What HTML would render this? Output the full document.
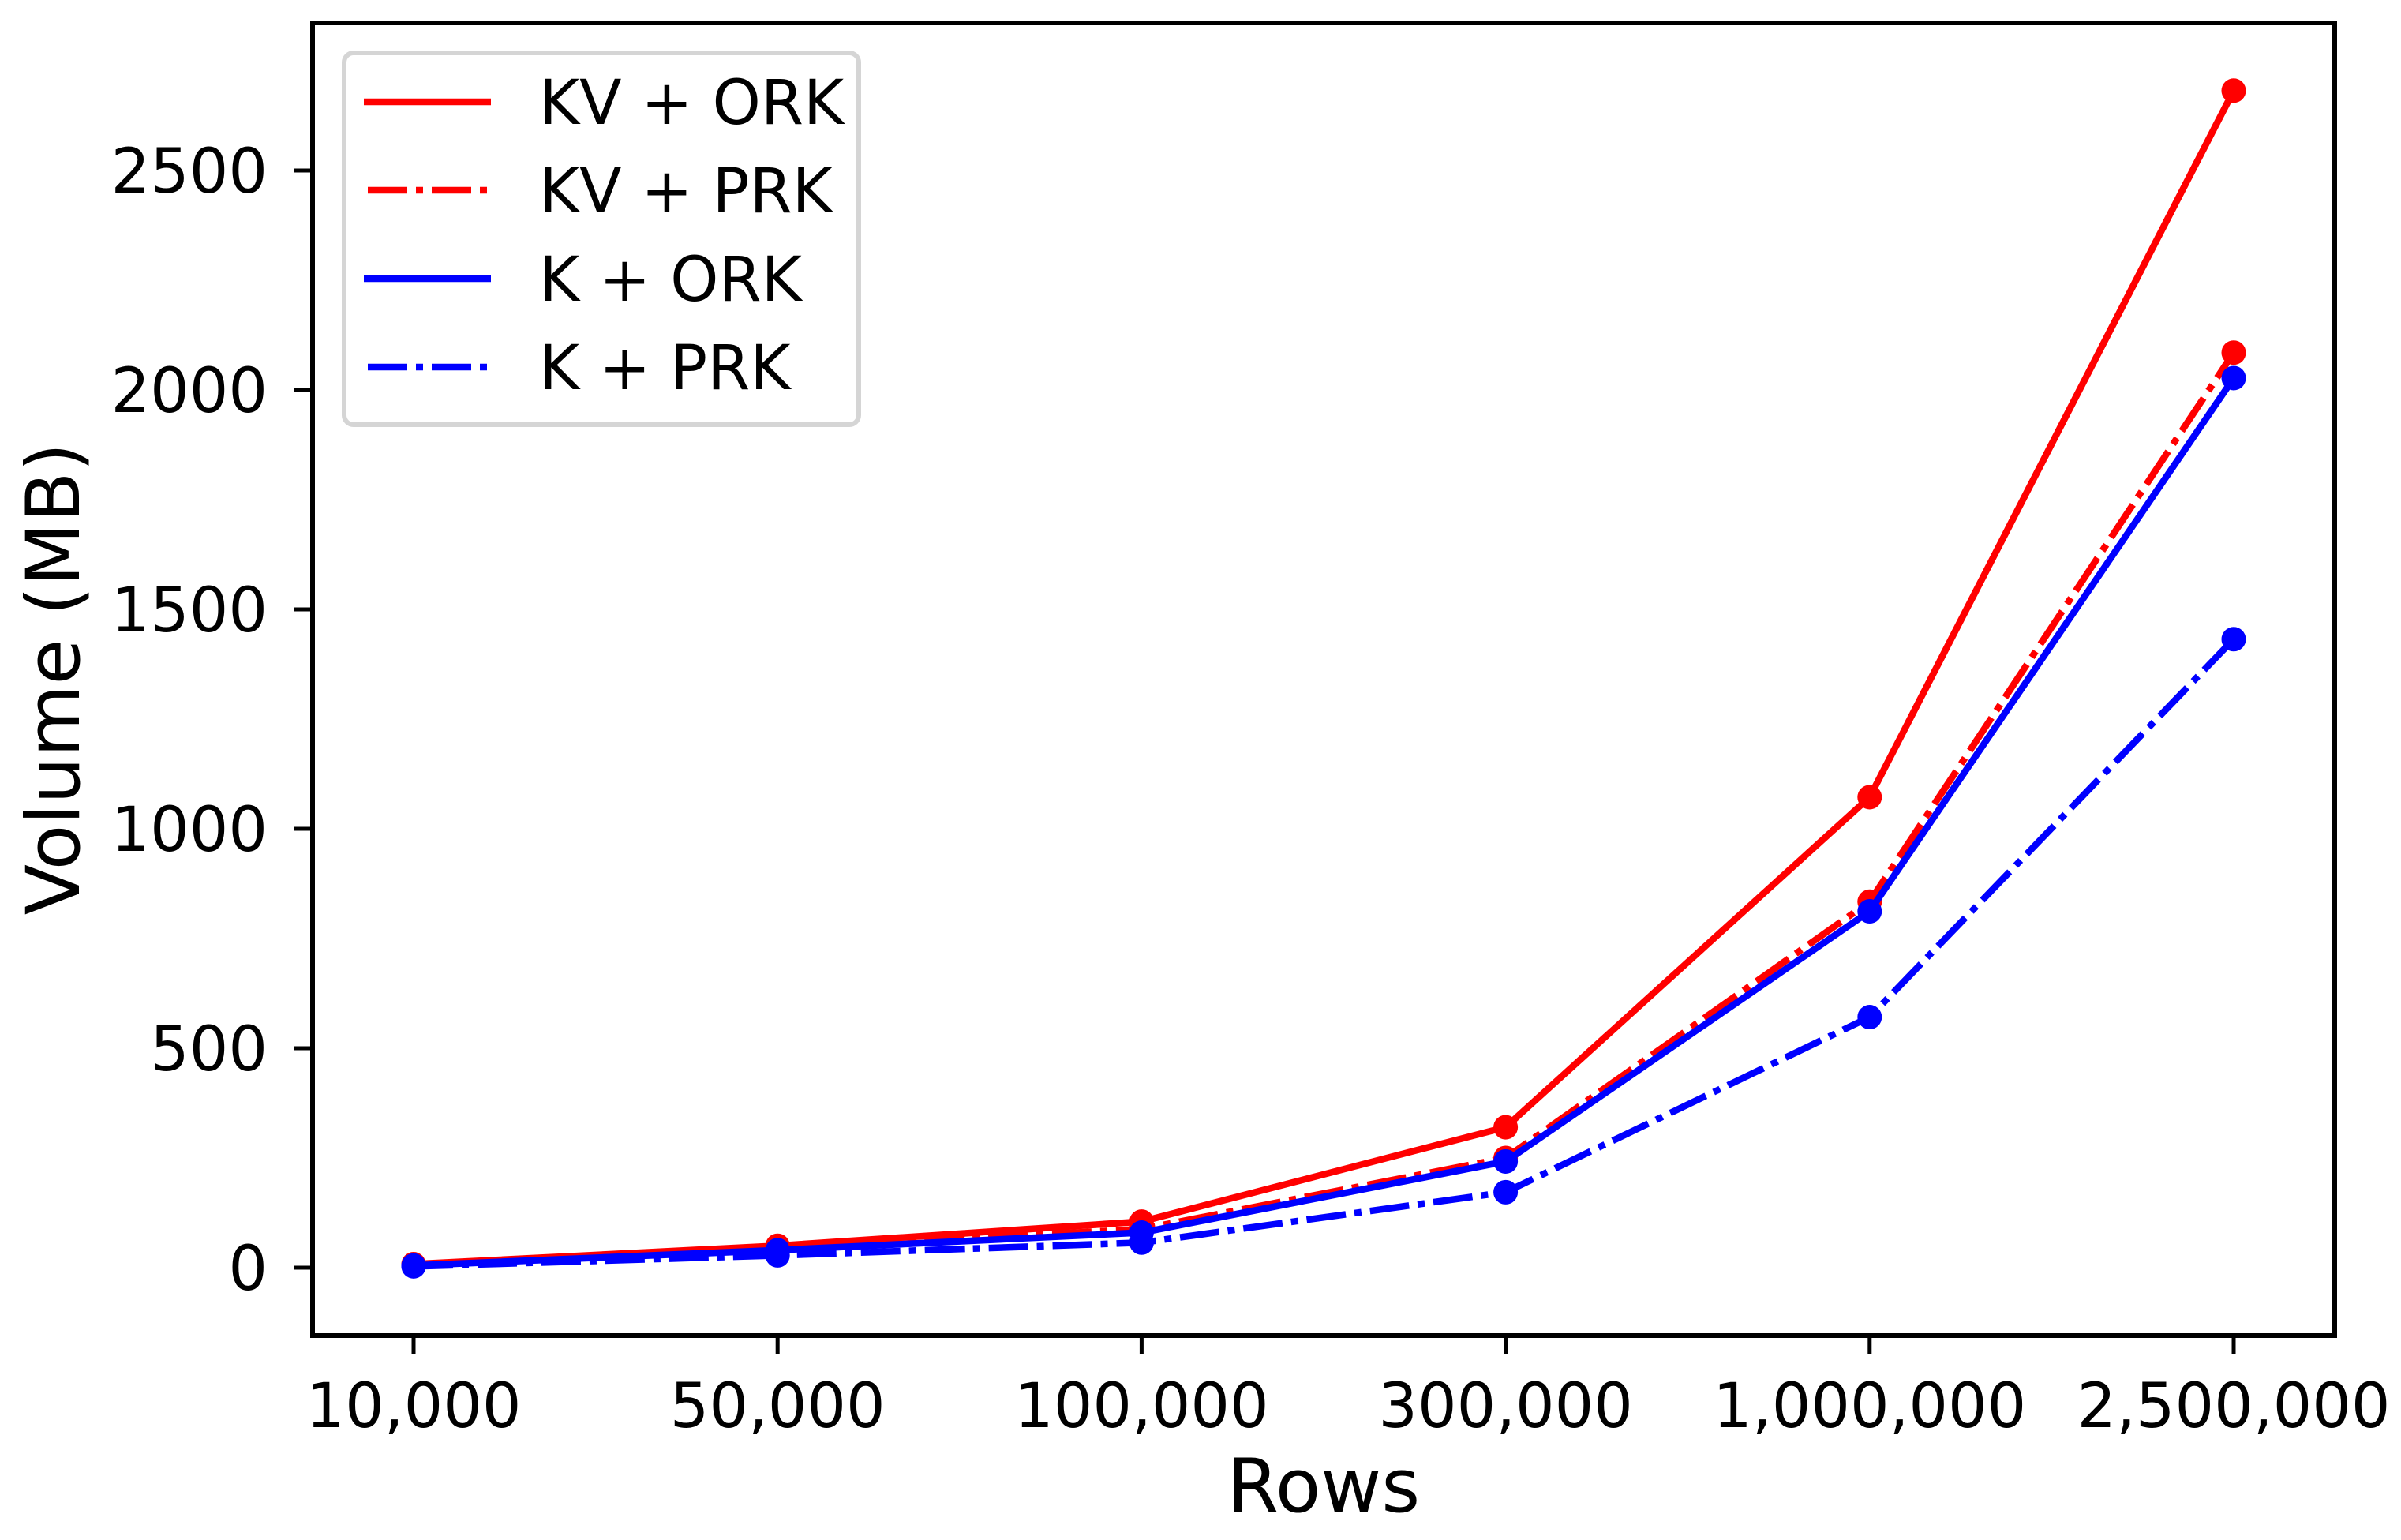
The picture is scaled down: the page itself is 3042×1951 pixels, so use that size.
<!DOCTYPE html>
<html><head><meta charset="utf-8"><style>
html,body{margin:0;padding:0;background:#fff;}
svg{display:block;font-family:"DejaVu Sans","Liberation Sans",sans-serif;}
</style></head><body>
<svg id="chart" width="3042" height="1951" viewBox="0 0 3042 1951" xmlns="http://www.w3.org/2000/svg">
<rect x="0" y="0" width="3042" height="1951" fill="#fff"/>
<g id="plot"></g>
</svg>
<script>
const categories = ["10,000","50,000","100,000","300,000","1,000,000","2,500,000"];
const yTicks = [0,500,1000,1500,2000,2500];
const kvOrk = [8,50,105,320,1072,2682];
const kvPrk = [6,44,88,250,834,2085];
const kOrk = [5,40,80,242,812,2027];
const kPrk = [3,28,57,172,571,1432];
const seriesNames = ["KV + ORK","KV + PRK","K + ORK","K + PRK"];

const NS="http://www.w3.org/2000/svg";
const L=396,R=2958,T=29,B=1692;
const x0=524, dx=461.2;
const y0=1606, pxPerMB=278/500;
function xs(i){return x0+i*dx;}
function ys(v){return y0-v*pxPerMB;}
const g=document.getElementById('plot');
function mk(tag,attrs,parent){const e=document.createElementNS(NS,tag);for(const k in attrs)e.setAttribute(k,attrs[k]);(parent||g).appendChild(e);return e;}

// series
const series=[
 {vals:kvOrk,color:"#ff0000",dash:null,name:"series-kv-ork"},
 {vals:kvPrk,color:"#ff0000",dash:"50 11 9 11",name:"series-kv-prk"},
 {vals:kOrk,color:"#0000ff",dash:null,name:"series-k-ork"},
 {vals:kPrk,color:"#0000ff",dash:"50 11 9 11",name:"series-k-prk"}
];
series.forEach(s=>{
  const sg=mk('g',{});
  
  
  const pts=s.vals.map((v,i)=>xs(i)+","+ys(v)).join(" ");
  const pl=mk('polyline',{points:pts,fill:"none",stroke:s.color,"stroke-width":8.5,"stroke-linejoin":"round"},sg);
  if(s.dash)pl.setAttribute('stroke-dasharray',s.dash);
  
  
  s.vals.forEach((v,i)=>{
    const c=mk('circle',{cx:xs(i),cy:ys(v),r:15.5,fill:s.color},sg);
    
    
  });
});

// axes frame
const fr=mk('rect',{x:L,y:T,width:R-L,height:B-T,fill:"none",stroke:"#000","stroke-width":6});



// x ticks
categories.forEach((c,i)=>{
  const t=mk('line',{x1:xs(i),x2:xs(i),y1:B,y2:B+23,stroke:"#000","stroke-width":5});
  
  
  const tx=mk('text',{x:xs(i),y:1808,"text-anchor":"middle","font-size":"78"});
  tx.textContent=c;
  
  
});
// y ticks
yTicks.forEach(v=>{
  const t=mk('line',{x1:L-23,x2:L,y1:ys(v),y2:ys(v),stroke:"#000","stroke-width":5});
  
  
  const tx=mk('text',{x:339,y:ys(v)+28,"text-anchor":"end","font-size":"78"});
  tx.textContent=String(v);
  
  
});
// axis titles
const xt=mk('text',{x:1677,y:1915,"text-anchor":"middle","font-size":"94"});
xt.textContent="Rows";


const yt=mk('text',{x:0,y:0,"text-anchor":"middle","font-size":"94",transform:"translate(100,860) rotate(-90)"});
yt.textContent="Volume (MB)";



// legend
const lg=mk('g',{});


mk('rect',{x:436,y:67,width:652,height:471,rx:12,fill:"#fff",stroke:"#d5d5d5","stroke-width":6},lg);
const rowsY=[129,241,353,465];
series.forEach((s,i)=>{
  const eg=mk('g',{},lg);
  
  
  const ln=mk('line',{x1:461,x2:622,y1:rowsY[i],y2:rowsY[i],stroke:s.color,"stroke-width":8.5},eg);
  if(s.dash){ln.setAttribute('stroke-dasharray',s.dash);ln.setAttribute('x1',466);ln.setAttribute('x2',617);}
  const tx=mk('text',{x:683,y:rowsY[i]+28,"font-size":"78"},eg);
  tx.textContent=seriesNames[i];
});
</script>
</body></html>
